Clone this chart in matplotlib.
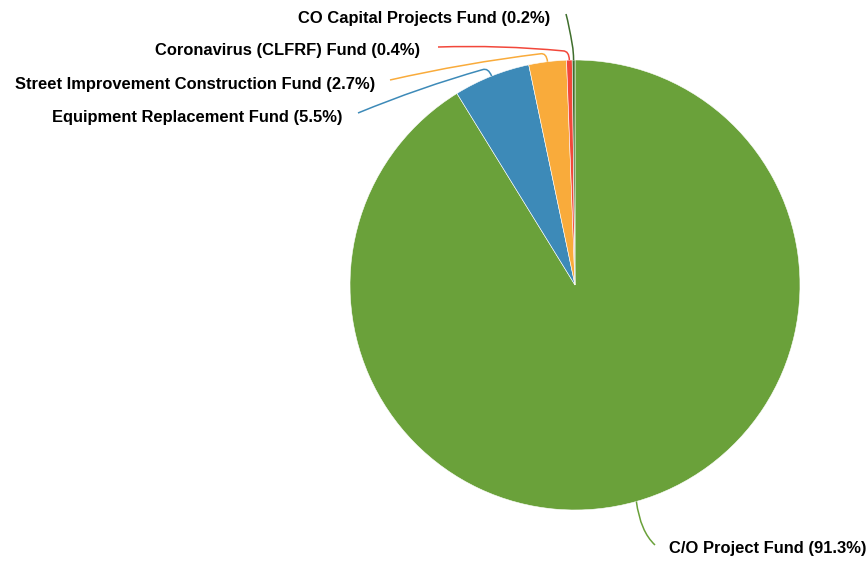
import numpy as np
import matplotlib.pyplot as plt
from matplotlib.path import Path
from matplotlib.patches import PathPatch

# data
funds = ['C/O Project Fund', 'Equipment Replacement Fund',
         'Street Improvement Construction Fund', 'Coronavirus (CLFRF) Fund',
         'CO Capital Projects Fund']
pct = [91.3, 5.5, 2.7, 0.4, 0.2]
colors = ['#6aa13a', '#3d8ab8', '#f9ab3b', '#f2473a', '#3f6e2c']

# layout in pixel units (y measured from top)
W, H = 867, 561
cx, cy, r = 575, 285, 225
text_pos = [(669, 548, 'left'), (343, 117, 'right'), (375, 84, 'right'),
            (420, 50, 'right'), (550, 18, 'right')]
line_end = [(655, 545), (358, 113), (390, 80), (438, 47), (566, 14)]

fig = plt.figure(figsize=(W / 100, H / 100), dpi=100)
ax = fig.add_axes([0, 0, 1, 1])

wedges, _ = ax.pie(pct, colors=colors, startangle=90, counterclock=False,
                   center=(cx, H - cy), radius=r, frame=True,
                   wedgeprops=dict(edgecolor='white', linewidth=0.4))
ax.set_xlim(0, W)
ax.set_ylim(0, H)
ax.set_aspect('equal')
ax.axis('off')

for i, w in enumerate(wedges):
    ang = np.deg2rad((w.theta1 + w.theta2) / 2)
    p0 = (cx + r * np.cos(ang), H - cy + r * np.sin(ang))
    c = (cx + (r + 9) * np.cos(ang), H - cy + (r + 9) * np.sin(ang))
    ex, ey = line_end[i]
    ey = H - ey
    if i == 0:
        verts = [p0, (p0[0] + 4, p0[1] - 30), (ex, ey)]
        codes = [Path.MOVETO, Path.CURVE3, Path.CURVE3]
    else:
        dx, dy = ex - c[0], ey - c[1]
        d = np.hypot(dx, dy)
        q = (c[0] + dx / d * 6, c[1] + dy / d * 6)
        mid = ((q[0] + ex) / 2, (q[1] + ey) / 2 + 4)
        verts = [p0, c, q, mid, (ex, ey)]
        codes = [Path.MOVETO, Path.CURVE3, Path.CURVE3, Path.CURVE3, Path.CURVE3]
    ax.add_patch(PathPatch(Path(verts, codes), fill=False,
                           edgecolor=colors[i], linewidth=1.1))
    tx, ty, ha = text_pos[i]
    ax.text(tx, H - ty, '{} ({}%)'.format(funds[i], pct[i]), ha=ha, va='center',
            fontsize=11.9, fontweight='bold', family='Liberation Sans')

fig.savefig('out.png', dpi=100)
